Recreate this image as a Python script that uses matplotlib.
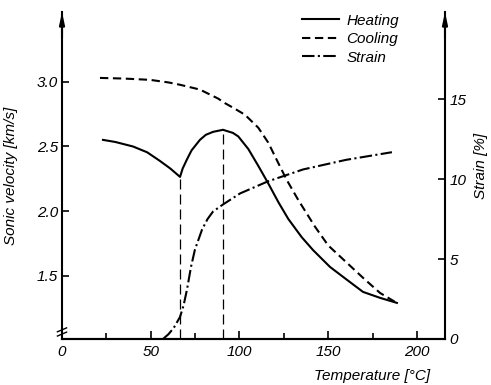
import matplotlib
matplotlib.use("Agg")
import matplotlib.pyplot as plt
from matplotlib.ticker import FixedLocator

plt.rcParams["font.family"] = ["Liberation Sans", "DejaVu Sans"]
plt.rcParams["font.style"] = "italic"

# heating curve (sonic velocity, km/s)
heat_t = [23.1, 30.0, 40.0, 48.0, 55.0, 61.0, 66.5, 68.0, 70.4, 73.0, 77.7, 81.0,
          85.1, 90.7, 96.3, 99.3, 105.0, 110.6, 116.2, 121.9, 127.5, 135.0,
          141.4, 151.0, 160.6, 169.6, 179.2, 188.7]
heat_v = [2.551, 2.535, 2.500, 2.455, 2.390, 2.330, 2.265, 2.330, 2.400, 2.470, 2.551, 2.590,
          2.613, 2.629, 2.605, 2.578, 2.480, 2.350, 2.215, 2.070, 1.940, 1.800,
          1.700, 1.569, 1.469, 1.376, 1.330, 1.291]

# cooling curve
cool_t = [21.4, 35.0, 49.6, 60.0, 66.5, 77.7, 88.0, 91.8, 97.0, 103.1, 110.6, 116.2,
          121.9, 126.6, 133.1, 142.5, 150.0, 160.6, 170.0, 179.2, 188.7]
cool_v = [3.030, 3.025, 3.015, 2.995, 2.977, 2.940, 2.870, 2.835, 2.795, 2.745, 2.645, 2.530,
          2.371, 2.242, 2.087, 1.881, 1.735, 1.600, 1.480, 1.368, 1.290]

# strain (%)
strain_t = [56.9, 60.0, 63.0, 66.5, 68.5, 70.4, 72.7, 74.9, 78.9, 82.0, 85.1,
            90.7, 100.3, 116.1, 135.8, 160.0, 185.9]
strain_s = [0.0, 0.3, 0.7, 1.38, 2.1, 3.08, 4.52, 5.59, 6.84, 7.5, 7.97,
            8.41, 9.10, 9.86, 10.60, 11.20, 11.68]

# transition markers (temperature, velocity top)
mark_t = [66.5, 90.7]
mark_v = [2.265, 2.629]

fig = plt.figure(figsize=(4.91, 3.85), dpi=100)
ax = fig.add_axes([0.1263, 0.1195, 0.78, 0.8495])
ax2 = ax.twinx()

lw = 1.5
ax.plot(heat_t, heat_v, color="black", lw=lw, label="Heating")
ax.plot(cool_t, cool_v, color="black", lw=lw, dashes=(4, 2.2), label="Cooling")
ax2.plot(strain_t, strain_s, color="black", lw=lw, dashes=(6, 1.6, 1, 1.6))
ax.plot([], [], color="black", lw=lw, dashes=(6, 1.6, 1, 1.6), label="Strain")

ymin = 1.012
for t, v in zip(mark_t, mark_v):
    ax.plot([t, t], [ymin, v], color="black", lw=0.9, dashes=(8, 4))

ax.set_xlim(0, 215.8)
ax.set_ylim(ymin, 3.54)
ax2.set_ylim(0, 20.45)

for a in (ax, ax2):
    a.spines["top"].set_visible(False)
    for s in a.spines.values():
        s.set_linewidth(1.5)
ax2.spines["left"].set_visible(False)
ax.spines["right"].set_visible(False)

ax.xaxis.set_major_locator(FixedLocator([0, 50, 100, 150, 200]))
ax.xaxis.set_minor_locator(FixedLocator([25, 75, 125, 175]))
ax.yaxis.set_major_locator(FixedLocator([1.5, 2.0, 2.5, 3.0]))
ax2.yaxis.set_major_locator(FixedLocator([0, 5, 10, 15]))

ax.tick_params(axis="x", which="major", direction="in", length=6, width=1.2, labelsize=11, pad=4)
ax.tick_params(axis="x", which="minor", direction="in", length=4, width=1.2)
ax.tick_params(axis="y", direction="in", length=5, width=1.2, labelsize=11, pad=3)
ax2.tick_params(axis="y", direction="in", length=5, width=1.2, labelsize=11, pad=3)
ax.set_yticklabels(["1.5", "2.0", "2.5", "3.0"])

ax.set_ylabel("Sonic velocity [km/s]", fontsize=11)
ax.yaxis.set_label_coords(-0.115, 0.5)
ax2.set_ylabel("Strain [%]", fontsize=11)
ax2.yaxis.set_label_coords(1.075, 0.53)
ax.text(0.96, -0.112, "Temperature [°C]", transform=ax.transAxes, ha="right", va="center", fontsize=11)

# arrow heads on the vertical axes
for xa in (0, 1):
    ax.annotate("", xy=(xa, 1.0), xytext=(xa, 0.92), xycoords="axes fraction",
                arrowprops=dict(arrowstyle="-|>,head_length=0.7,head_width=0.15",
                                color="black", lw=1.5, shrinkA=0, shrinkB=0))

# axis break mark
for dy in (0.015, 0.028):
    ax.plot([-0.012, 0.012], [dy - 0.006, dy + 0.006], transform=ax.transAxes,
            color="black", lw=1.0, clip_on=False)

ax.legend(loc="upper left", bbox_to_anchor=(0.627, 0.995), frameon=False, fontsize=11,
          handlelength=2.4, handletextpad=0.5, labelspacing=0.3, borderpad=0, borderaxespad=0)

fig.savefig("out.png", dpi=100)
